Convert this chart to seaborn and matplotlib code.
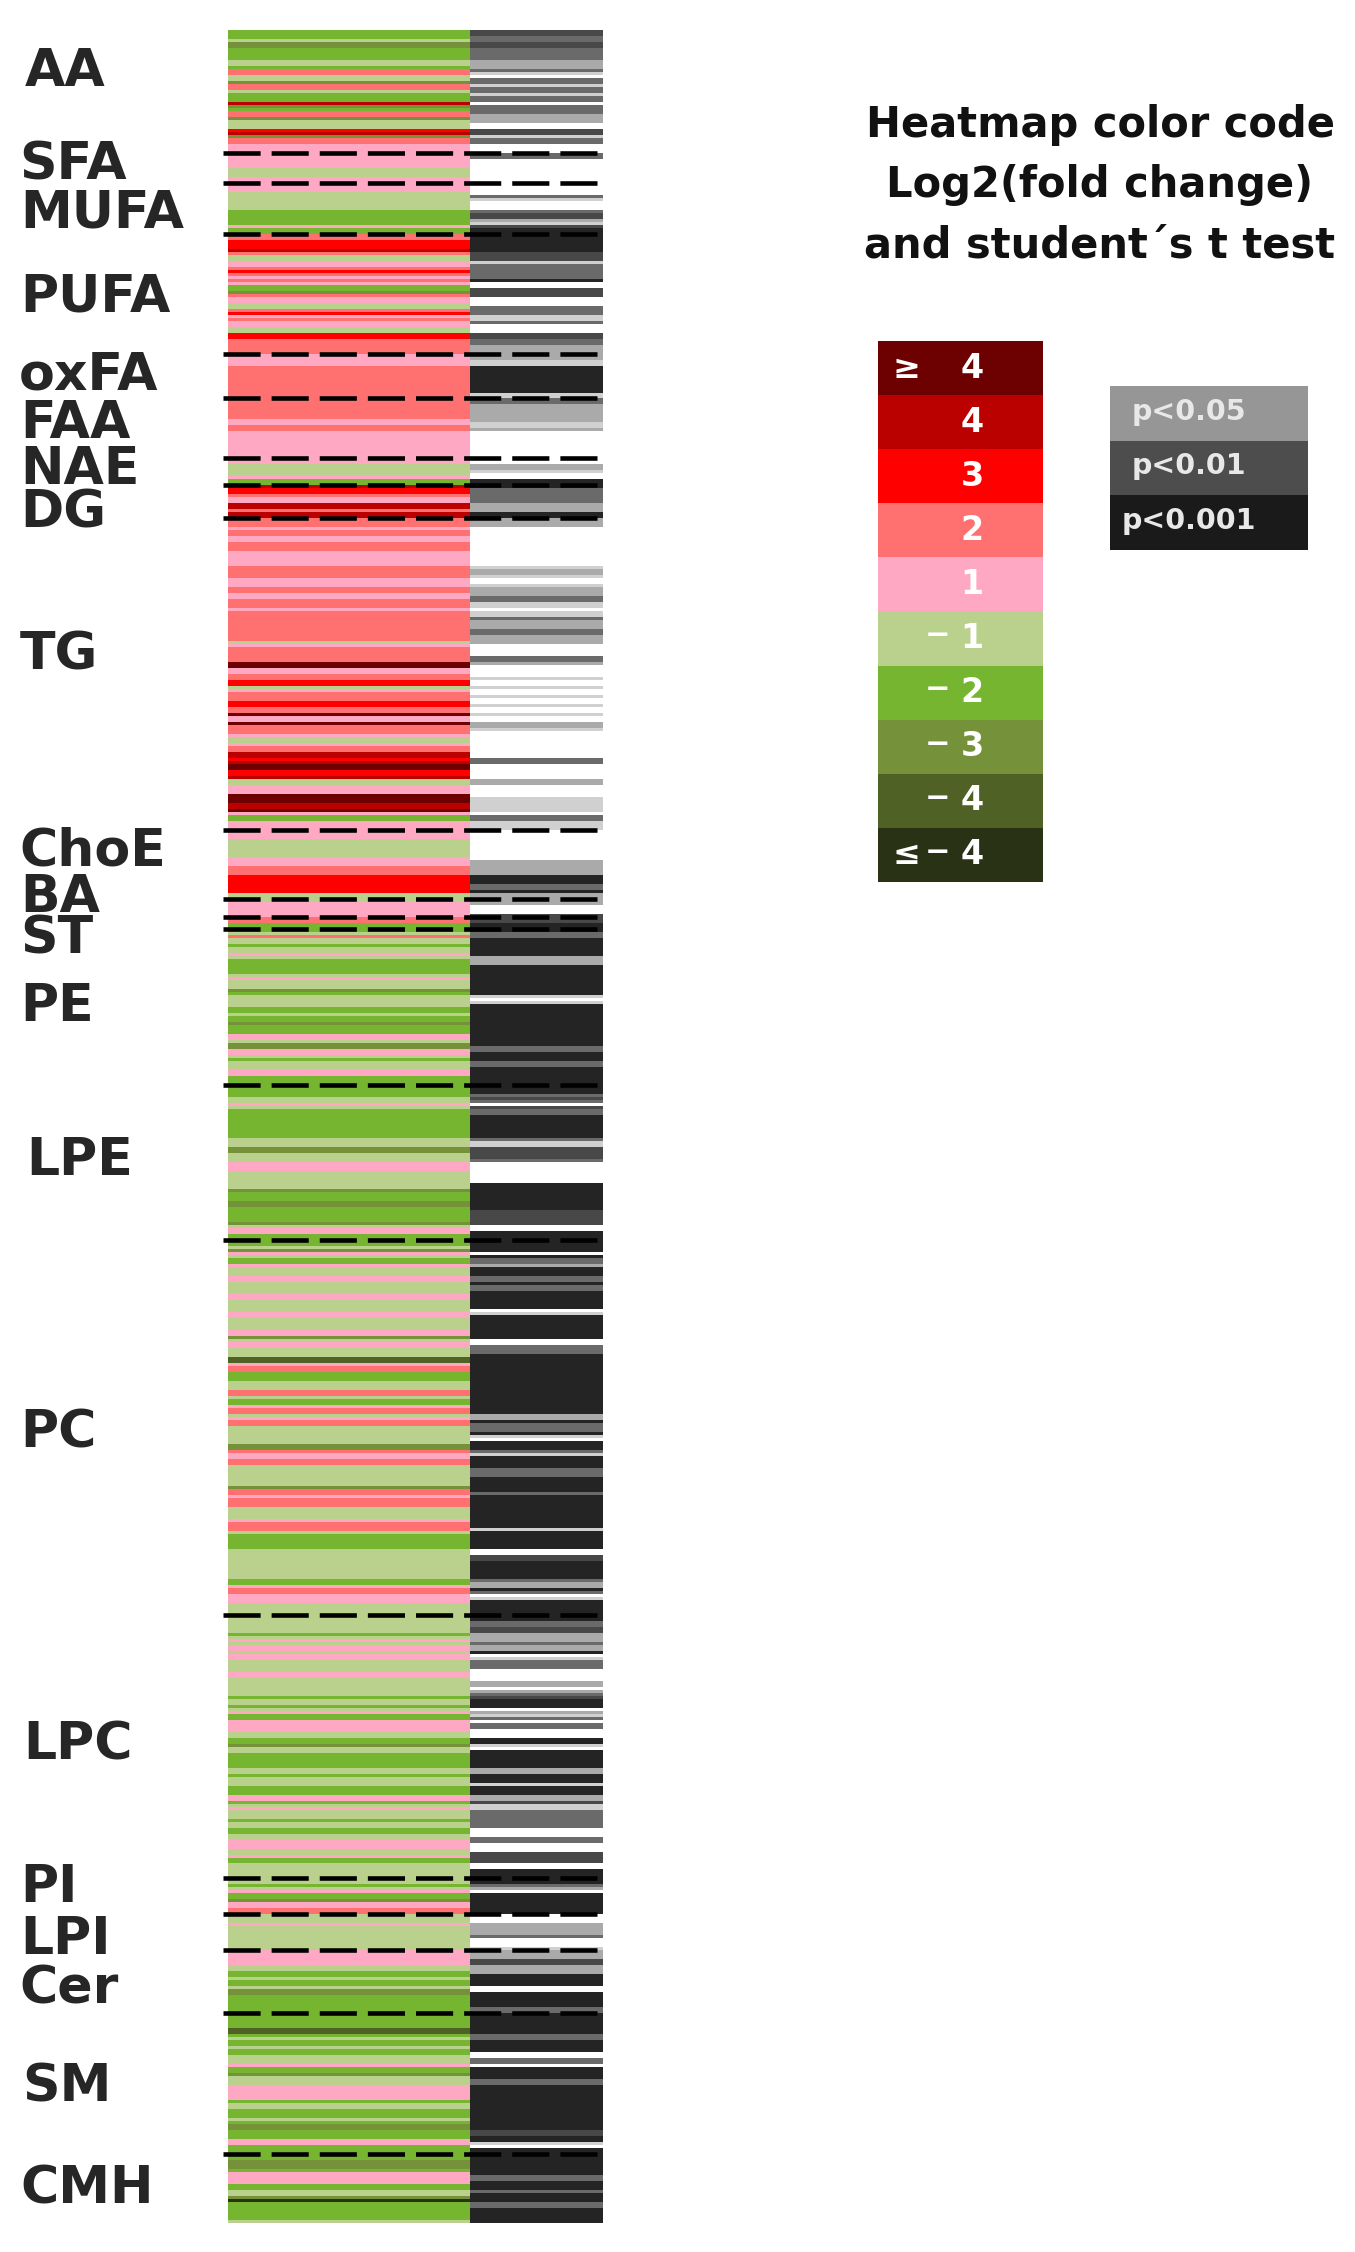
import numpy as np
import matplotlib
matplotlib.use('Agg')
import matplotlib.pyplot as plt
from matplotlib.colors import ListedColormap
import seaborn as sns

# one list of (code, rows) per lipid class
# fold change code: -5..-1 and 1..5 ; p code: 0 (white) .. 5 (darkest)
fc_AA = [(-2,3),(-1,1),(-3,2),(-2,4),(-1,2),(-2,1),(2,2),(-1,2),(-3,1),(2,2),(-1,1),(-2,3),(4,1),(-3,1),(-2,1),(2,2),(-3,1),(-1,3),(3,1),(4,1),(-3,1),(2,2),(1,3)]
p_AA = [(4,2),(3,2),(4,2),(3,4),(2,3),(3,1),(1,1),(0,1),(3,2),(1,1),(3,2),(1,1),(3,2),(0,1),(3,3),(2,3),(0,2),(4,2),(1,1),(3,2),(0,3)]
fc_SFA = [(1,5),(-1,3),(1,2)]
p_SFA = [(3,2),(0,8)]
fc_MUFA = [(1,3),(-1,6),(-2,5),(1,1),(-2,2)]
p_MUFA = [(0,4),(3,1),(1,1),(0,3),(3,1),(4,2),(2,1),(1,1),(4,1),(5,2)]
fc_PUFA = [(2,2),(3,3),(4,1),(2,1),(-1,2),(1,2),(2,1),(3,1),(2,1),(1,1),(2,1),(1,1),(-2,2),(-3,1),(2,1),(1,2),(-1,2),(2,1),(3,1),(1,1),(2,1),(1,2),(-1,2),(3,2),(2,5)]
p_PUFA = [(5,6),(4,3),(1,1),(3,5),(5,1),(0,2),(4,3),(0,3),(3,3),(1,2),(3,1),(0,3),(4,2),(3,2),(2,3)]
fc_oxFA = [(1,4),(2,11)]
p_oxFA = [(2,2),(1,2),(5,9),(1,2)]
fc_FAA = [(2,7),(1,2),(2,2),(1,9)]
p_FAA = [(3,2),(2,6),(1,2),(2,1),(0,9)]
fc_NAE = [(1,2),(-1,4),(1,1),(-2,2)]
p_NAE = [(0,2),(2,2),(1,1),(0,2),(5,2)]
fc_DG = [(4,1),(3,2),(2,1),(1,2),(4,2),(2,1),(4,2)]
p_DG = [(5,1),(3,5),(2,3),(5,2)]
fc_TG = [(2,3),(1,1),(2,2),(1,2),(2,3),(1,1),(1,4),(2,4),(1,1),(1,2),(2,2),(1,2),(2,3),(1,1),(2,10),(-1,1),(1,1),(2,5),(5,2),(1,2),(2,2),(3,2),(-1,1),(1,1),(2,3),(3,2),(2,2),(5,1),(1,2),(5,1),(2,3),(1,1),(-1,2),(1,1),(2,2),(4,2),(3,1),(4,1),(5,2),(3,2),(4,1),(-1,2),(1,3),(5,3),(4,2),(5,1),(1,1),(-2,2),(1,3)]
p_TG = [(2,3),(0,13),(1,1),(2,2),(1,1),(0,2),(1,1),(2,3),(3,2),(1,2),(0,1),(1,2),(3,1),(2,3),(3,2),(2,3),(0,4),(3,2),(2,1),(0,4),(1,1),(0,2),(1,1),(0,2),(1,1),(0,2),(1,1),(0,2),(1,1),(0,2),(2,2),(1,1),(0,9),(3,2),(0,5),(2,2),(0,4),(1,4),(1,1),(0,1),(3,2),(1,3)]
fc_ChoE = [(1,3),(-1,6),(1,3),(2,3),(3,6),(-1,2)]
p_ChoE = [(0,10),(2,5),(5,3),(3,2),(5,1),(2,2)]
fc_BA = [(-1,1),(1,5)]
p_BA = [(2,2),(0,3),(4,1)]
fc_ST = [(2,2),(-2,2)]
p_ST = [(4,2),(5,2)]
fc_PE = [(-2,1),(-1,1),(2,1),(-1,2),(-2,1),(-1,2),(1,1),(-1,1),(-2,5),(-1,1),(1,1),(-1,3),(-3,1),(-2,1),(-1,4),(-2,2),(-1,1),(-2,2),(-3,1),(-2,3),(1,2),(-1,1),(-3,2),(1,2),(-1,1),(-2,1),(-1,3),(1,2),(-2,3)]
p_PE = [(5,1),(3,2),(5,6),(2,3),(5,10),(1,1),(0,1),(1,1),(5,14),(3,2),(5,3),(3,2),(5,6)]
fc_LPE = [(-2,4),(-1,2),(1,1),(-1,1),(-2,10),(-1,3),(-3,2),(-1,3),(1,3),(-1,6),(-3,1),(-2,3),(-3,2),(-2,5),(-3,1),(-1,1),(1,2),(-2,2)]
p_LPE = [(5,2),(5,1),(3,1),(4,1),(3,1),(0,1),(4,1),(3,2),(5,8),(3,1),(1,2),(4,4),(3,1),(0,7),(5,9),(4,3),(4,1),(4,1),(0,2),(5,3)]
fc_PC = [(-2,2),(-1,1),(-3,1),(1,1),(-1,1),(-2,2),(1,1),(-1,3),(1,2),(-1,4),(1,2),(-1,4),(1,2),(-1,4),(1,2),(-3,1),(-1,1),(1,2),(-1,3),(-4,2),(1,1),(2,2),(-2,3),(-1,3),(2,2),(-1,1),(-2,2),(1,1),(2,2),(-1,1),(1,1),(2,2),(-1,6),(-3,2),(2,1),(1,2),(2,2),(-1,7),(-3,1),(2,2),(1,1),(2,3),(-1,1),(-1,3),(1,1),(2,3),(-1,1),(-2,5),(-1,10),(-2,2),(1,1),(2,2),(1,3),(-1,4)]
p_PC = [(5,4),(0,1),(5,1),(3,2),(2,1),(5,3),(3,2),(5,1),(3,2),(5,5),(5,1),(0,1),(1,1),(5,8),(0,1),(0,1),(3,3),(5,20),(2,2),(5,1),(3,3),(5,1),(1,1),(0,1),(5,3),(3,1),(1,1),(5,4),(3,3),(5,5),(3,1),(5,11),(1,1),(5,6),(0,2),(4,2),(5,6),(3,1),(2,2),(5,1),(3,1),(0,1),(1,1),(5,5)]
fc_LPC = [(-1,2),(-1,4),(-2,1),(-1,1),(1,1),(-1,1),(1,2),(-1,1),(1,2),(-1,4),(1,2),(-1,6),(-2,1),(-1,2),(-2,1),(-1,1),(1,1),(-2,2),(1,4),(-1,2),(-2,2),(-3,1),(-1,2),(-2,5),(-1,2),(-2,1),(-1,3),(-2,3),(1,2),(-2,1),(-1,1),(1,1),(-1,3),(-2,1),(-1,2),(-2,2),(-1,2),(1,3),(-1,2),(1,1),(-2,2),(-1,5)]
p_LPC = [(5,2),(3,2),(4,2),(2,1),(2,2),(3,1),(2,2),(5,1),(0,1),(1,1),(3,3),(0,4),(2,2),(0,1),(2,1),(3,1),(4,1),(5,3),(0,1),(2,1),(1,1),(3,1),(0,1),(3,2),(0,2),(0,1),(5,2),(1,1),(0,1),(5,6),(2,2),(5,3),(1,1),(5,3),(2,2),(4,1),(1,2),(3,6),(0,3),(3,2),(0,3),(4,4),(0,2),(5,3)]
fc_PI = [(-1,2),(-2,1),(-1,1),(1,1),(-2,2),(-3,1),(1,2),(2,2)]
p_PI = [(5,2),(3,1),(2,1),(0,1),(5,5),(5,2)]
fc_LPI = [(-1,3),(1,1),(-1,8)]
p_LPI = [(0,3),(2,4),(3,1),(0,3),(1,1)]
fc_Cer = [(1,5),(-1,2),(-2,2),(-1,1),(-2,2),(-1,1),(-3,2),(-2,6)]
p_Cer = [(2,3),(4,2),(2,2),(2,1),(5,4),(0,2),(5,5),(3,2)]
fc_SM = [(-2,5),(-4,2),(-2,1),(-1,1),(-2,2),(-1,1),(-2,2),(-1,3),(1,1),(-2,2),(-3,1),(-1,3),(1,4),(1,1),(-2,1),(-1,2),(-2,3),(-1,1),(-2,1),(-3,2),(-2,3),(1,2),(-2,3)]
p_SM = [(5,7),(3,2),(5,4),(0,1),(0,1),(3,2),(0,1),(5,4),(3,2),(5,15),(4,2),(5,2),(1,1),(0,1),(5,2)]
fc_CMH = [(-2,2),(-3,3),(-2,1),(1,3),(1,1),(-2,2),(-1,2),(-3,1),(-5,1),(-2,6),(-1,1)]
p_CMH = [(5,7),(3,2),(5,3),(3,1),(5,3),(3,2),(5,5)]

class_names = ['AA','SFA','MUFA','PUFA','oxFA','FAA','NAE','DG','TG','ChoE','BA','ST','PE','LPE','PC','LPC','PI','LPI','Cer','SM','CMH']
fc_runs = [fc_AA,fc_SFA,fc_MUFA,fc_PUFA,fc_oxFA,fc_FAA,fc_NAE,fc_DG,fc_TG,fc_ChoE,fc_BA,fc_ST,fc_PE,fc_LPE,fc_PC,fc_LPC,fc_PI,fc_LPI,fc_Cer,fc_SM,fc_CMH]
p_runs = [p_AA,p_SFA,p_MUFA,p_PUFA,p_oxFA,p_FAA,p_NAE,p_DG,p_TG,p_ChoE,p_BA,p_ST,p_PE,p_LPE,p_PC,p_LPC,p_PI,p_LPI,p_Cer,p_SM,p_CMH]

legend_fc = [5,4,3,2,1,-1,-2,-3,-4,-5]
legend_cmp = ['≥','','','','','','','','','≤']
legend_minus = ['','','','','','−','−','−','−','−']
legend_num = ['4','4','3','2','1','1','2','3','4','4']
legend_p = ['p<0.05','p<0.01','p<0.001']

fc_colors = ['#2a3216','#4f6125','#75923a','#76b52f','#bad18e','#ffffff','#ffa8c4','#ff7070','#ff0000','#bb0000','#6d0000']
p_colors = ['#ffffff','#d0d0d0','#aaaaaa','#6a6a6a','#484848','#242424']
p_legend_colors = ['#969696','#4d4d4d','#1a1a1a']


def expand(runs):
    return [c for c, n in runs for i in range(n)]


fc_rows = []
p_rows = []
sizes = []
for f, p in zip(fc_runs, p_runs):
    a = expand(f)
    b = expand(p)
    if len(a) != len(b):
        raise ValueError('length differs ' + str(len(a)) + ' ' + str(len(b)))
    sizes.append(len(a))
    fc_rows += a
    p_rows += b

W, H = 1355, 2252
sns.set_style('white')
plt.rcParams['font.family'] = ['DejaVu Sans']
fig = plt.figure(figsize=(W / 100, H / 100), dpi=100)


def px_axes(x0, y0, x1, y1):
    # axes from pixel box, y counted from the top
    return fig.add_axes([x0 / W, 1 - y1 / H, (x1 - x0) / W, (y1 - y0) / H])


ax_fc = px_axes(228, 30, 470, 2223)
sns.heatmap(np.array(fc_rows).reshape(-1, 1), ax=ax_fc, cmap=ListedColormap(fc_colors), vmin=-5.5, vmax=5.5,
            cbar=False, xticklabels=False, yticklabels=False)
ax_p = px_axes(470, 30, 603, 2223)
sns.heatmap(np.array(p_rows).reshape(-1, 1), ax=ax_p, cmap=ListedColormap(p_colors), vmin=-0.5, vmax=5.5,
            cbar=False, xticklabels=False, yticklabels=False)

# dashed separators between classes
ax_line = px_axes(223, 30, 603, 2223)
ax_line.patch.set_alpha(0)
ax_line.axis('off')
ax_line.set_xlim(0, 1)
ax_line.set_ylim(len(fc_rows), 0)
ax_line.hlines(np.cumsum(sizes)[:-1], 0, 1, colors='black', linewidth=3.3, linestyles=[(0, (8.1, 2.4))])

label_x = [25,19,20,20,19,20,20,20,20,19,20,20,20,26,20,23,20,20,19,22,20]
label_y = [72,165,214,298,375,424,470,513,655,851,898,940,1007,1161,1433,1746,1888,1940,1989,2087,2190]
for name, x, y in zip(class_names, label_x, label_y):
    fig.text(x / W, 1 - y / H, name, fontsize=37.5, fontweight='bold', color='#262626', ha='left', va='center')

# colour legend
ax_leg = px_axes(878, 341, 1043, 882)
sns.heatmap(np.array(legend_fc).reshape(-1, 1), ax=ax_leg, cmap=ListedColormap(fc_colors), vmin=-5.5, vmax=5.5,
            cbar=False, xticklabels=False, yticklabels=False)
for i in range(10):
    ax_leg.text(0.57, i + 0.5, legend_num[i], color='white', fontsize=24, fontweight='bold', ha='center', va='center')
    ax_leg.text(0.36, i + 0.45, legend_minus[i], color='white', fontsize=22, fontweight='bold', ha='center', va='center')
    ax_leg.text(0.17, i + 0.5, legend_cmp[i], color='white', fontsize=24, fontweight='bold', ha='center', va='center')

ax_pleg = px_axes(1110, 386, 1308, 550)
sns.heatmap(np.arange(3).reshape(-1, 1), ax=ax_pleg, cmap=ListedColormap(p_legend_colors), cbar=False,
            xticklabels=False, yticklabels=False)
for i, t in enumerate(legend_p):
    ax_pleg.text(0.40, i + 0.47, t, color='#e8e8e8', fontsize=20.5, fontweight='bold', ha='center', va='center')

for t, y in zip(['Heatmap color code', 'Log2(fold change)', 'and student´s t test'], [125, 185, 245]):
    fig.text(1100 / W, 1 - y / H, t, fontsize=30, fontweight='bold', color='#111111', ha='center', va='center')

fig.savefig('out.png', dpi=100)
